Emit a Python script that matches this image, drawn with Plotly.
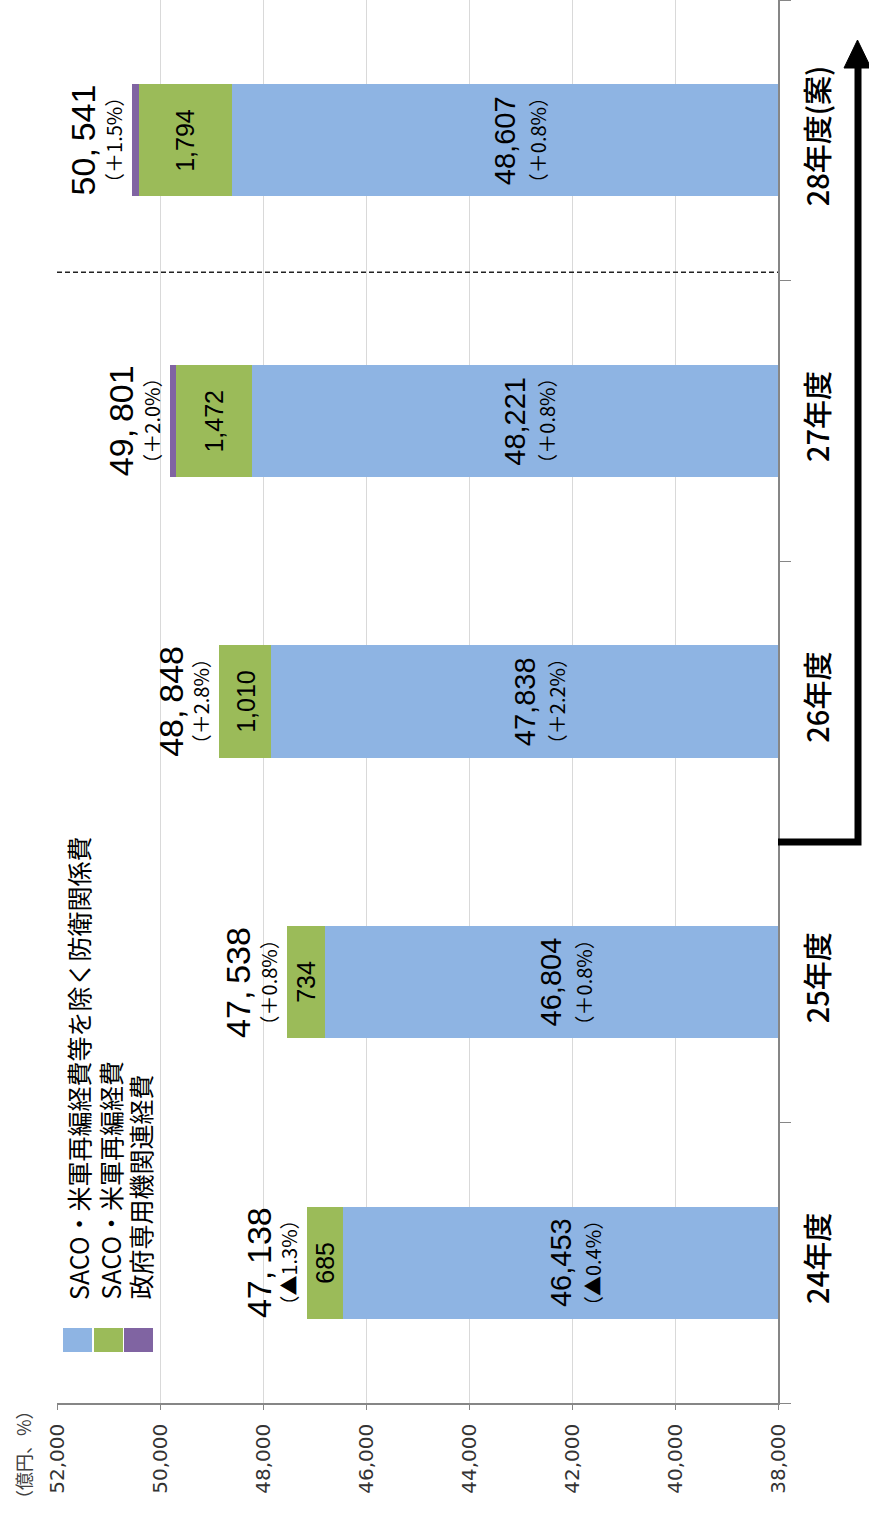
import plotly.graph_objects as go

# 防衛関係費の推移（億円）
years = ["24年度", "25年度", "26年度", "27年度", "28年度(案)"]
base_budget = [46453, 46804, 47838, 48221, 48607]      # SACO・米軍再編経費等を除く防衛関係費
saco_budget = [685, 734, 1010, 1472, 1794]              # SACO・米軍再編経費
govjet_budget = [0, 0, 0, 108, 140]                     # 政府専用機関連経費
totals = [47138, 47538, 48848, 49801, 50541]
total_change = ["（▲1.3%）", "（＋0.8%）", "（＋2.8%）", "（＋2.0%）", "（＋1.5%）"]
base_change = ["（▲0.4%）", "（＋0.8%）", "（＋2.2%）", "（＋0.8%）", "（＋0.8%）"]

series_names = ["SACO・米軍再編経費等を除く防衛関係費", "SACO・米軍再編経費", "政府専用機関連経費"]
series_colors = ["#8EB4E3", "#9BBB59", "#8064A2"]

X_MIN, X_MAX = 38000, 52000
x_ticks = list(range(X_MIN, X_MAX + 1, 2000))

W, H = 869, 1517
ML, MR, MT, MB = 57, 91, 0, 114
PW, PH = W - ML - MR, H - MT - MB

def px(x):
    return (x - ML) / PW

def py(y):
    return (H - MB - y) / PH

JP = "Noto Sans CJK JP"
NUM = "Liberation Sans"

fig = go.Figure()
for vals, name, color in zip([base_budget, saco_budget, govjet_budget], series_names, series_colors):
    fig.add_trace(go.Bar(
        y=years, x=vals, name=name, orientation="h",
        marker=dict(color=color, line=dict(width=0)),
        width=0.4, showlegend=False, hoverinfo="skip",
    ))

ann = []
for i, yr in enumerate(years):
    # 合計値と前年度比
    ann.append(dict(x=totals[i], y=yr, xref="x", yref="y", text=f"{totals[i]:,}".replace(",", ",\u2009"),
                    showarrow=False, textangle=-90, xanchor="right", yanchor="middle", xshift=-28,
                    font=dict(family=NUM, size=34, color="#000")))
    ann.append(dict(x=totals[i], y=yr, xref="x", yref="y", text=total_change[i],
                    showarrow=False, textangle=-90, xanchor="right", yanchor="middle", xshift=-2,
                    font=dict(family=JP, size=20, color="#000")))
    # 本体部分
    mid = (X_MIN + base_budget[i]) / 2
    ann.append(dict(x=mid, y=yr, xref="x", yref="y", text=f"{base_budget[i]:,}",
                    showarrow=False, textangle=-90, xanchor="center", yanchor="middle", xshift=0,
                    font=dict(family=NUM, size=29, color="#000")))
    ann.append(dict(x=mid, y=yr, xref="x", yref="y", text=base_change[i],
                    showarrow=False, textangle=-90, xanchor="center", yanchor="middle", xshift=32,
                    font=dict(family=JP, size=20, color="#000")))
    # SACO・米軍再編経費
    ann.append(dict(x=base_budget[i] + saco_budget[i] / 2, y=yr, xref="x", yref="y",
                    text=f"{saco_budget[i]:,}", showarrow=False, textangle=-90,
                    xanchor="center", yanchor="middle",
                    font=dict(family=NUM, size=25, color="#000")))

# 凡例
shapes = []
legend_x = [63, 94, 124]
for k, (name, color) in enumerate(zip(series_names, series_colors)):
    shapes.append(dict(type="rect", xref="paper", yref="paper",
                       x0=px(legend_x[k]), x1=px(legend_x[k] + 29), y0=py(1352), y1=py(1328),
                       fillcolor=color, line=dict(width=0)))
    ann.append(dict(x=px(legend_x[k] + 15), y=py(1302), xref="paper", yref="paper", text=name,
                    showarrow=False, textangle=-90, xanchor="center", yanchor="bottom",
                    font=dict(family=JP, size=25, color="#000")))

# 単位
ann.append(dict(x=px(23), y=py(1455), xref="paper", yref="paper", text="（億円、%）",
                showarrow=False, textangle=-90, xanchor="center", yanchor="middle",
                font=dict(family=JP, size=18, color="#404040")))

# 27年度と28年度の区切り
shapes.append(dict(type="line", xref="paper", yref="y", x0=0, x1=1, y0=3.53, y1=3.53,
                   line=dict(color="#222", width=1.5, dash="5px,3px")))

# 矢印
shapes.append(dict(type="path", xref="paper", yref="paper",
                   path=f"M {px(778)},{py(842)} L {px(858)},{py(842)} L {px(858)},{py(62)}",
                   line=dict(color="#000", width=7)))
shapes.append(dict(type="path", xref="paper", yref="paper",
                   path=f"M {px(844)},{py(68)} L {px(857.5)},{py(40)} L {px(871)},{py(68)} Z",
                   fillcolor="#000", line=dict(color="#000", width=1)))

fig.update_layout(
    width=W, height=H,
    margin=dict(l=ML, r=MR, t=MT, b=MB),
    barmode="stack",
    bargap=0.6,
    plot_bgcolor="#FFFFFF", paper_bgcolor="#FFFFFF",
    xaxis=dict(range=[X_MAX, X_MIN], tickvals=x_ticks, tickformat=",", tickangle=-90,
               showgrid=True, gridcolor="#D9D9D9", gridwidth=1,
               showline=True, linecolor="#868686", linewidth=1.5,
               ticks="outside", ticklen=5, tickcolor="#868686",
               ticklabelstandoff=6, zeroline=False,
               tickfont=dict(family="DejaVu Sans", size=20, color="#333")),
    yaxis=dict(categoryorder="array", categoryarray=years, range=[-0.5, 4.5],
               side="right", tickson="boundaries", ticks="outside", ticklen=11,
               tickcolor="#868686", showline=True, linecolor="#868686", linewidth=1.5,
               showgrid=False, tickangle=-90, ticklabelstandoff=14,
               tickfont=dict(family=JP, size=29, color="#000", weight=500)),
    shapes=shapes,
    annotations=ann,
)

fig.write_html("out.html")
